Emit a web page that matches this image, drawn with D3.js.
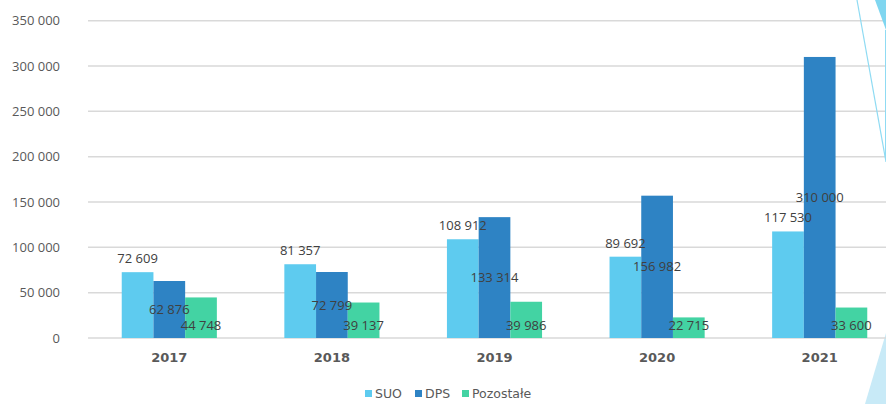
<!DOCTYPE html>
<html><head><meta charset="utf-8">
<script src="https://cdn.jsdelivr.net/npm/d3@7"></script>
<style>html,body{margin:0;padding:0;background:#fff;overflow:hidden}</style>
</head><body>
<svg id="c" width="886" height="404"></svg>
<script>
const years = ["2017","2018","2019","2020","2021"];
const seriesNames = ["SUO","DPS","Pozostałe"];
const suo = [72609, 81357, 108912, 89692, 117530];
const dps = [62876, 72799, 133314, 156982, 310000];
const pozostale = [44748, 39137, 39986, 22715, 33600];
const yTicks = [0, 50000, 100000, 150000, 200000, 250000, 300000, 350000];
const colors = ["#5ECBEF", "#2E83C4", "#43D3A3"];

const values = [suo, dps, pozostale];
const svg = d3.select("#c");

const y = d3.scaleLinear().domain([0, 350000]).range([338, 20.7]);
const x0 = d3.scaleBand().domain(years).range([88, 901]).paddingInner(0.415).paddingOuter(0.2075);
const x1 = d3.scaleBand().domain(seriesNames).range([0, x0.bandwidth()]);
const fmt = v => d3.format(",")(v).replace(/,/g, " ");

// decorations
svg.append("polygon").attr("points","865,404 886,333 886,404").attr("fill","#C8EAF7");

// gridlines
svg.append("g").selectAll("line").data(yTicks).join("line")
  .attr("x1", 88).attr("x2", 886)
  .attr("y1", d => y(d)).attr("y2", d => y(d))
  .attr("stroke", "#D9D9D9").attr("stroke-width", 1.5);

// y tick labels
svg.append("g").selectAll("text").data(yTicks).join("text")
  .attr("x", 60).attr("y", d => y(d)).attr("dy", "0.35em")
  .attr("text-anchor", "end")
  .attr("font-family", "Open Sans").attr("font-size", 13).attr("fill", "#595959")
  .text(d => fmt(d));

// bars
const groups = svg.append("g").selectAll("g").data(years).join("g")
  .attr("transform", d => `translate(${x0(d)},0)`);
groups.selectAll("rect").data((d, i) => seriesNames.map((s, k) => ({s, k, v: values[k][i]})))
  .join("rect")
  .attr("x", d => x1(d.s)).attr("width", x1.bandwidth())
  .attr("y", d => y(d.v)).attr("height", d => y(0) - y(d.v))
  .attr("fill", d => colors[d.k]);

// data labels
groups.selectAll("text.lbl").data((d, i) => seriesNames.map((s, k) => ({s, k, v: values[k][i]})))
  .join("text").attr("class","lbl")
  .attr("x", d => x1(d.s) + x1.bandwidth() / 2)
  .attr("y", d => d.k === 0 ? y(d.v) - 9 : d.k === 1 ? y(d.v / 2) + 4.5 : y(0) - 8)
  .attr("text-anchor", "middle")
  .attr("font-family", "Open Sans").attr("font-size", 13).attr("fill", "#404040")
  .text(d => fmt(d.v));

// x axis labels
svg.append("g").selectAll("text").data(years).join("text")
  .attr("x", d => x0(d) + x0.bandwidth() / 2).attr("y", 362)
  .attr("text-anchor", "middle")
  .attr("font-family", "DejaVu Sans").attr("font-weight", "bold").attr("font-size", 13).attr("fill", "#595959")
  .text(d => d);

// legend
const legX = [365, 415, 462];
const leg = svg.append("g").selectAll("g").data(seriesNames).join("g")
  .attr("transform", (d, i) => `translate(${legX[i]},0)`);
leg.append("rect").attr("x", 0).attr("y", 390).attr("width", 7).attr("height", 7).attr("fill", (d, i) => colors[i]);
leg.append("text").attr("x", 10).attr("y", 398)
  .attr("font-family", "DejaVu Sans").attr("font-size", 12.5).attr("fill", "#595959")
  .text(d => d);

// top-right decorations
svg.append("polygon").attr("points","875,0 886,0 886,30").attr("fill","#7FD6F0");
svg.append("line").attr("x1",857).attr("y1",0).attr("x2",886).attr("y2",162).attr("stroke","#8FDBF3").attr("stroke-width",1.2);
svg.append("line").attr("x1",885.5).attr("y1",30).attr("x2",885.5).attr("y2",160).attr("stroke","#8FDBF3").attr("stroke-width",1);
</script>
</body></html>
